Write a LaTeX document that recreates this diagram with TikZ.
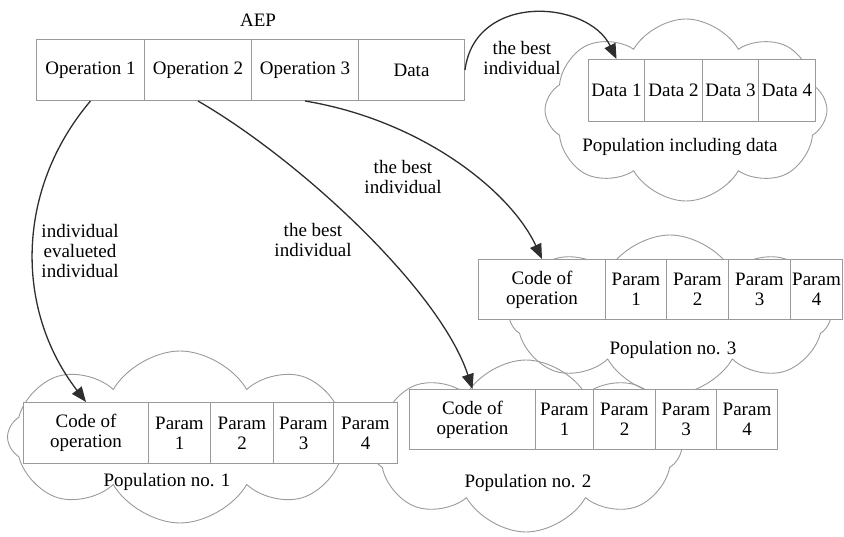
\documentclass[tikz,border=0pt]{standalone}
\usepackage{fontspec}
\setmainfont{Liberation Serif}
\usetikzlibrary{shapes.symbols,arrows.meta}
\definecolor{boxgray}{HTML}{9A9A9A}
\definecolor{arrowgray}{HTML}{2E2E2E}
\begin{document}
\begin{tikzpicture}[x=1pt,y=-1pt,
  font=\fontsize{19}{20}\selectfont,
  cell/.style={draw=boxgray, fill=white, line width=1pt, anchor=north west, inner sep=0pt, align=center},
  cloudbg/.style={cloud, cloud puffs=8, cloud puff arc=120, cloud ignores aspect, draw=boxgray, line width=0.9pt, inner sep=0pt},
  conn/.style={draw=arrowgray, line width=1.3pt, -{Triangle[length=15pt,width=12pt]}},
  lbl/.style={align=center, inner sep=0pt}]
\useasboundingbox (0,0) rectangle (844,537);
% clouds
\node[cloudbg, minimum width=345pt, minimum height=172pt] (cl1) at (180,437) {};
\node[cloudbg, minimum width=312pt, minimum height=172pt, shape border rotate=20] (cl2) at (526,446) {};
\node[cloudbg, minimum width=322pt, minimum height=160pt, shape border rotate=10] (cl3) at (670,315) {};
\node[cloudbg, minimum width=282pt, minimum height=182pt, shape border rotate=25] (cl4) at (686,110) {};
% AEP
\node[lbl] (aep) at (258,20) {AEP};
\node[cell, minimum width=108pt, minimum height=61pt] (op1) at (36,39) {Operation 1};
\node[cell, minimum width=107pt, minimum height=61pt] (op2) at (144,39) {Operation 2};
\node[cell, minimum width=107pt, minimum height=61pt] (op3) at (251,39) {Operation 3};
\node[cell, minimum width=106pt, minimum height=61pt] (data) at (358,39) {Data};
% data population
\node[cell, minimum width=56pt, minimum height=62pt] (d1) at (588,59) {Data 1};
\node[cell, minimum width=58pt, minimum height=62pt] (d2) at (644,59) {Data 2};
\node[cell, minimum width=56pt, minimum height=62pt] (d3) at (702,59) {Data 3};
\node[cell, minimum width=57pt, minimum height=62pt] (d4) at (758,59) {Data 4};
\node[lbl] (pd) at (680,147) {Population including data};
% population 3
\node[cell, minimum width=127pt, minimum height=60pt] (c3) at (478,259) {Code of\\operation};
\node[cell, minimum width=61pt, minimum height=60pt] (p31) at (605,259) {Param\\1};
\node[cell, minimum width=62pt, minimum height=60pt] (p32) at (666,259) {Param\\2};
\node[cell, minimum width=62pt, minimum height=60pt] (p33) at (728,259) {Param\\3};
\node[cell, minimum width=52pt, minimum height=60pt] (p34) at (790,259) {Param\\4};
\node[lbl] (pn3) at (673,350) {Population no. 3};
% population 1
\node[cell, minimum width=125pt, minimum height=61pt] (c1) at (23,402) {Code of\\operation};
\node[cell, minimum width=62pt, minimum height=61pt] (p11) at (148,402) {Param\\1};
\node[cell, minimum width=63pt, minimum height=61pt] (p12) at (210,402) {Param\\2};
\node[cell, minimum width=60pt, minimum height=61pt] (p13) at (273,402) {Param\\3};
\node[cell, minimum width=64pt, minimum height=61pt] (p14) at (333,402) {Param\\4};
\node[lbl] (pn1) at (167,482) {Population no. 1};
% population 2
\node[cell, minimum width=126pt, minimum height=60pt] (c2) at (409,389) {Code of\\operation};
\node[cell, minimum width=58pt, minimum height=60pt] (p21) at (535,389) {Param\\1};
\node[cell, minimum width=62pt, minimum height=60pt] (p22) at (593,389) {Param\\2};
\node[cell, minimum width=61pt, minimum height=60pt] (p23) at (655,389) {Param\\3};
\node[cell, minimum width=61pt, minimum height=60pt] (p24) at (716,389) {Param\\4};
\node[lbl] (pn2) at (528,483) {Population no. 2};
% arrows
\draw[conn] (op1.south) .. controls (15,190) and (15,310) .. (c1.north);
\draw[conn] (op2.south) .. controls (300,160) and (440,290) .. (c2.north);
\draw[conn] (op3.south) .. controls (420,120) and (510,190) .. (c3.north);
\draw[conn] (data.east) .. controls (475,-8) and (588,0) .. (d1.north);
% labels
\node[lbl] (l1) at (80,251) {individual\\evalueted\\individual};
\node[lbl] (l2) at (313,240) {the best\\individual};
\node[lbl] (l3) at (403,177) {the best\\individual};
\node[lbl] (l4) at (522,58) {the best\\individual};
\end{tikzpicture}
\end{document}
